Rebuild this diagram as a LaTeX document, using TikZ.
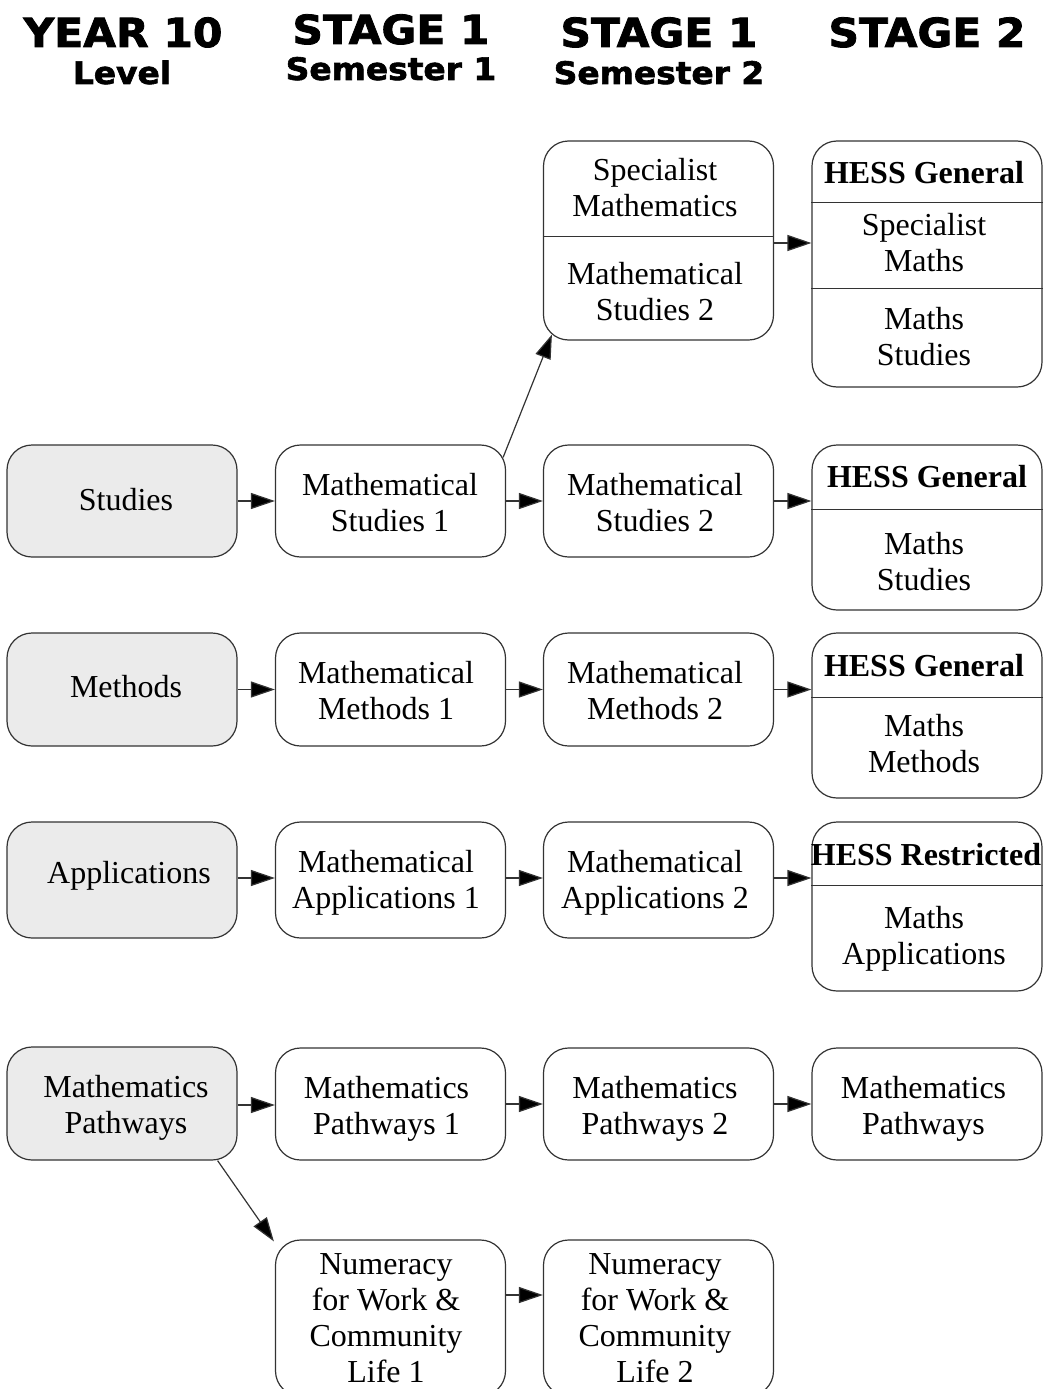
\documentclass[tikz,border=0pt]{standalone}
\usepackage{fontspec}
\setmainfont{Liberation Serif}
\newfontfamily\headfont[FakeStretch=1.06,FakeBold=2]{DejaVu Sans}
\usetikzlibrary{arrows.meta}
\newcommand\bodyfont{\fontsize{32}{36}\selectfont}
\newcommand\hdbig{\headfont\bfseries\fontsize{40}{44}\selectfont}
\newcommand\hdsmall{\headfont\bfseries\fontsize{31}{36}\selectfont}
\definecolor{yfill}{HTML}{EBEBEB}
\definecolor{edge}{HTML}{333333}
\begin{document}
\begin{tikzpicture}[x=1pt,y=-1pt,
  box/.style={draw=edge, line width=1.2pt, rounded corners=25pt, minimum width=230pt, inner sep=0pt},
  ybox/.style={box, fill=yfill},
  txt/.style={inner sep=0pt, align=center, font=\bodyfont},
  btxt/.style={txt, font=\bodyfont\bfseries},
  hdA/.style={inner sep=0pt, anchor=base, font=\hdbig},
  hdB/.style={inner sep=0pt, anchor=base, font=\hdsmall},
  arr/.style={draw=edge, line width=1.2pt, -{Triangle[length=24pt,width=16pt,fill=black]}},
  divline/.style={draw=edge, line width=1.2pt}]
\useasboundingbox (0,0) rectangle (1043,1389);

% headers
\node[hdA] (h1a) at (123,47) {YEAR 10};
\node[hdB] (h1b) at (122,84) {Level};
\node[hdA] (h2a) at (391,44) {STAGE 1};
\node[hdB] (h2b) at (391,80) {Semester 1};
\node[hdA] (h3a) at (659,47) {STAGE 1};
\node[hdB] (h3b) at (659,84) {Semester 2};
\node[hdA] (h4a) at (927,47) {STAGE 2};

% column 1
\node[ybox, minimum height=112pt] (stud) at (122,501) {};
\node[txt] (studT) at (126,500) {Studies};
\node[ybox, minimum height=113pt] (meth) at (122,689.5) {};
\node[txt] (methT) at (126,686.5) {Methods};
\node[ybox, minimum height=116pt] (appl) at (122,880) {};
\node[txt] (applT) at (129,876) {Applications};
\node[ybox, minimum height=113pt] (path0) at (122,1103.5) {};
\node[txt] (path0T) at (126,1107.5) {Mathematics\\Pathways};

% column 2
\node[box, minimum height=112pt] (ms1) at (390.5,501) {};
\node[txt] (ms1T) at (390,503) {Mathematical\\Studies 1};
\node[box, minimum height=113pt] (mm1) at (390.5,689.5) {};
\node[txt] (mm1T) at (386,691) {Mathematical\\Methods 1};
\node[box, minimum height=116pt] (ma1) at (390.5,880) {};
\node[txt] (ma1T) at (386,883) {Mathematical\\Applications 1};
\node[box, minimum height=112pt] (mp1) at (390.5,1104) {};
\node[txt] (mp1T) at (386.5,1109) {Mathematics\\Pathways 1};
\node[box, minimum height=156pt] (num1) at (390.5,1318) {};
\node[txt] (num1T) at (386,1318) {Numeracy\\for Work \&\\Community\\Life 1};

% column 3
\node[box, minimum height=199pt] (spec) at (658.5,240.5) {};
\draw[divline] ([yshift=-96pt]spec.north west) -- ([yshift=-96pt]spec.north east);
\node[txt] (specA) at (655,188) {Specialist\\Mathematics};
\node[txt] (specB) at (655,292) {Mathematical\\Studies 2};
\node[box, minimum height=112pt] (ms2) at (658.5,501) {};
\node[txt] (ms2T) at (655,503) {Mathematical\\Studies 2};
\node[box, minimum height=113pt] (mm2) at (658.5,689.5) {};
\node[txt] (mm2T) at (655,691) {Mathematical\\Methods 2};
\node[box, minimum height=116pt] (ma2) at (658.5,880) {};
\node[txt] (ma2T) at (655,883) {Mathematical\\Applications 2};
\node[box, minimum height=112pt] (mp2) at (658.5,1104) {};
\node[txt] (mp2T) at (655,1109) {Mathematics\\Pathways 2};
\node[box, minimum height=156pt] (num2) at (658.5,1318) {};
\node[txt] (num2T) at (655,1318) {Numeracy\\for Work \&\\Community\\Life 2};

% column 4
\node[box, minimum height=246pt] (hg1) at (927,264) {};
\draw[divline] ([yshift=-62pt]hg1.north west) -- ([yshift=-62pt]hg1.north east);
\draw[divline] ([yshift=-148pt]hg1.north west) -- ([yshift=-148pt]hg1.north east);
\node[btxt] (hg1A) at (924,173) {HESS General};
\node[txt] (hg1B) at (924,243) {Specialist\\Maths};
\node[txt] (hg1C) at (924,337) {Maths\\Studies};

\node[box, minimum height=165pt] (hg2) at (927,527.5) {};
\draw[divline] ([yshift=-65pt]hg2.north west) -- ([yshift=-65pt]hg2.north east);
\node[btxt] (hg2A) at (927,477) {HESS General};
\node[txt] (hg2B) at (924,562) {Maths\\Studies};

\node[box, minimum height=165pt] (hg3) at (927,715.5) {};
\draw[divline] ([yshift=-65pt]hg3.north west) -- ([yshift=-65pt]hg3.north east);
\node[btxt] (hg3A) at (924,666) {HESS General};
\node[txt] (hg3B) at (924,744) {Maths\\Methods};

\node[box, minimum height=169pt] (hr) at (927,906.5) {};
\draw[divline] ([yshift=-64pt]hr.north west) -- ([yshift=-64pt]hr.north east);
\node[btxt] (hrA) at (926,855) {HESS Restricted};
\node[txt] (hrB) at (924,939) {Maths\\Applications};

\node[box, minimum height=112pt] (mp3) at (927,1104) {};
\node[txt] (mp3T) at (923.5,1109) {Mathematics\\Pathways};

% arrows
\draw[arr] (stud.east) -- (stud.east -| ms1.west);
\draw[arr] (ms1.east) -- (ms1.east -| ms2.west);
\draw[arr] (ms2.east) -- (ms2.east -| hg2.west);
\draw[arr] ([xshift=-3pt,yshift=-13pt]ms1.north east) -- ([xshift=9pt,yshift=6pt]spec.south west);
\draw[arr] ([yshift=-2.5pt]spec.east) -- ([yshift=-2.5pt]spec.east -| hg1.west);

\draw[arr] (meth.east) -- (meth.east -| mm1.west);
\draw[arr] (mm1.east) -- (mm1.east -| mm2.west);
\draw[arr] (mm2.east) -- (mm2.east -| hg3.west);

\draw[arr] ([yshift=2pt]appl.east) -- ([yshift=2pt]appl.east -| ma1.west);
\draw[arr] ([yshift=2pt]ma1.east) -- ([yshift=2pt]ma1.east -| ma2.west);
\draw[arr] ([yshift=2pt]ma2.east) -- ([yshift=2pt]ma2.east -| hr.west);

\draw[arr] ([yshift=-1.5pt]path0.east) -- ([yshift=-1.5pt]path0.east -| mp1.west);
\draw[arr] (mp1.east) -- (mp1.east -| mp2.west);
\draw[arr] (mp2.east) -- (mp2.east -| mp3.west);
\draw[arr] ([xshift=-20pt]path0.south east) -- ([xshift=-1pt,yshift=-2pt]num1.north west);
\draw[arr] ([yshift=23pt]num1.east) -- ([yshift=23pt]num1.east -| num2.west);
\end{tikzpicture}
\end{document}
